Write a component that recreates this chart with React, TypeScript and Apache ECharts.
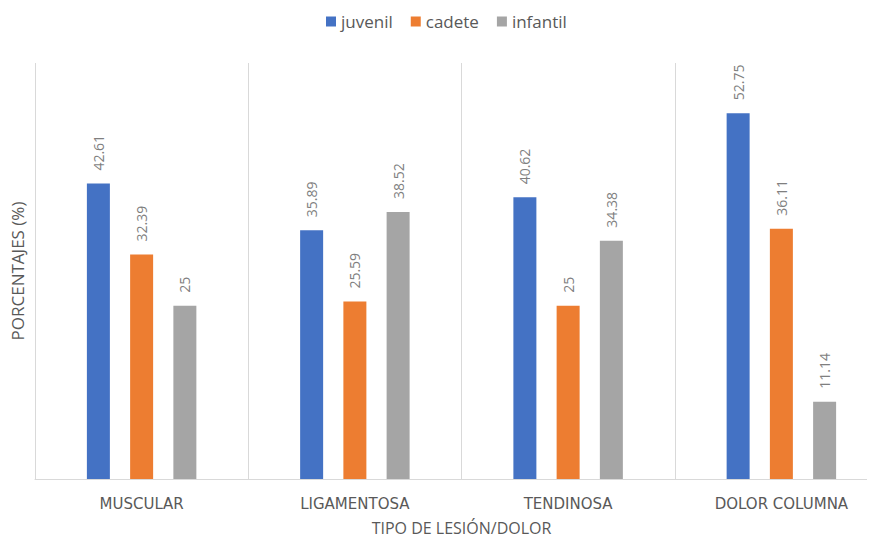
import React, { useEffect, useRef } from "react";
import * as echarts from "echarts";

// Injury / pain type by age category (percentages)
const categories = ["MUSCULAR", "LIGAMENTOSA", "TENDINOSA", "DOLOR COLUMNA"];
const juvenil = [42.61, 35.89, 40.62, 52.75];
const cadete = [32.39, 25.59, 25, 36.11];
const infantil = [25, 38.52, 34.38, 11.14];

const seriesNames = ["juvenil", "cadete", "infantil"];
const seriesColors = ["#4472C4", "#ED7D31", "#A5A5A5"];
const seriesValues = [juvenil, cadete, infantil];

const FONT = "'Open Sans', 'Noto Sans', sans-serif";
const TEXT = "#595959";

export default function App() {
  const ref = useRef<HTMLDivElement>(null);

  useEffect(() => {
    if (!ref.current) return;
    const chart = echarts.init(ref.current, undefined, { renderer: "svg" });
    chart.setOption({
      animation: false,
      textStyle: { fontFamily: FONT },
      legend: {
        data: seriesNames,
        top: 8,
        left: 321,
        icon: "rect",
        itemWidth: 10,
        itemHeight: 10,
        itemGap: 18,
        textStyle: { color: TEXT, fontSize: 17, fontFamily: FONT },
      },
      grid: {
        left: 35,
        right: -13,
        top: 63,
        bottom: 63,
        containLabel: false,
        outerBoundsMode: "none",
      },
      xAxis: {
        type: "category",
        data: categories,
        name: "TIPO DE LESIÓN/DOLOR",
        nameLocation: "middle",
        nameGap: 41,
        nameTextStyle: { color: TEXT, fontSize: 16, fontFamily: FONT },
        axisLine: { show: true, lineStyle: { color: "#D9D9D9", width: 1 } },
        axisTick: { show: false },
        axisLabel: { color: TEXT, fontSize: 15, margin: 17, fontFamily: "'DejaVu Sans', sans-serif" },
        splitLine: { show: true, lineStyle: { color: "#D9D9D9", width: 1 } },
      },
      yAxis: {
        type: "value",
        min: 0,
        max: 60,
        name: "PORCENTAJES (%)",
        nameLocation: "middle",
        nameGap: 9,
        nameTextStyle: { color: TEXT, fontSize: 17, fontFamily: FONT },
        axisLine: { show: false },
        axisTick: { show: false },
        axisLabel: { show: false },
        splitLine: { show: false },
      },
      series: seriesNames.map((name, i) => ({
        name,
        type: "bar",
        data: seriesValues[i],
        barWidth: 23,
        barGap: "88%",
        itemStyle: { color: seriesColors[i] },
        label: {
          show: true,
          position: "top",
          rotate: 90,
          align: "left",
          verticalAlign: "middle",
          distance: 13,
          color: "#7F7F7F",
          fontSize: 14,
          fontFamily: FONT,
        },
      })),
    });
    return () => chart.dispose();
  }, []);

  return <div ref={ref} style={{ width: 875, height: 542, margin: -8 }} />;
}
